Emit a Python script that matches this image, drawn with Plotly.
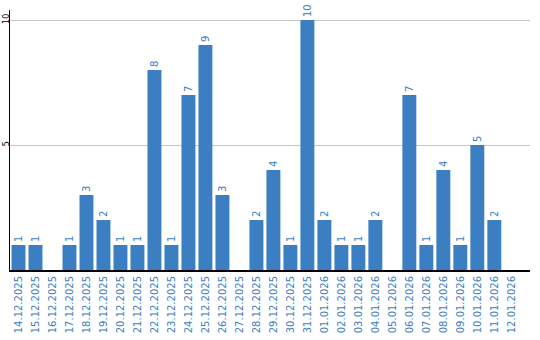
import plotly.graph_objects as go

dates = ["14.12.2025", "15.12.2025", "16.12.2025", "17.12.2025", "18.12.2025",
         "19.12.2025", "20.12.2025", "21.12.2025", "22.12.2025", "23.12.2025",
         "24.12.2025", "25.12.2025", "26.12.2025", "27.12.2025", "28.12.2025",
         "29.12.2025", "30.12.2025", "31.12.2025", "01.01.2026", "02.01.2026",
         "03.01.2026", "04.01.2026", "05.01.2026", "06.01.2026", "07.01.2026",
         "08.01.2026", "09.01.2026", "10.01.2026", "11.01.2026", "12.01.2026"]
values = [1, 1, 0, 1, 3, 2, 1, 1, 8, 1, 7, 9, 3, 0, 2, 4, 1, 10, 2, 1,
          1, 2, 0, 7, 1, 4, 1, 5, 2, 0]
y_ticks = [5, 10]

blue = "#3b7ec2"
labels = [str(v) if v else "" for v in values]

fig = go.Figure(go.Bar(
    x=dates, y=values, marker=dict(color=blue, line=dict(width=0)),
    text=labels, textposition="outside", textangle=-90,
    textfont=dict(family="DejaVu Sans", size=10, color=blue),
    cliponaxis=False,
))

fig.update_layout(
    width=540, height=340,
    margin=dict(l=10, r=10, t=10, b=70),
    paper_bgcolor="white", plot_bgcolor="white",
    bargap=0.18, showlegend=False,
    font=dict(family="DejaVu Sans", size=10),
)
fig.update_xaxes(
    type="category", range=[-0.5, 30.1], tickangle=-90, automargin=False,
    tickfont=dict(family="DejaVu Sans", size=10, color=blue),
    showline=True, linecolor="black", linewidth=2,
    showgrid=False, ticks="", ticklen=0,
)
fig.update_yaxes(
    range=[0, 10.4], tickvals=y_ticks, ticktext=[str(t) for t in y_ticks],
    tickangle=-90, automargin=False, ticklabelstandoff=-3,
    tickfont=dict(family="DejaVu Sans", size=8, color="black"),
    showline=True, linecolor="black", linewidth=1,
    showgrid=True, gridcolor="#c8c8c8", gridwidth=1,
    zeroline=False, ticks="", ticklen=0,
)

fig.write_html("out.html")
